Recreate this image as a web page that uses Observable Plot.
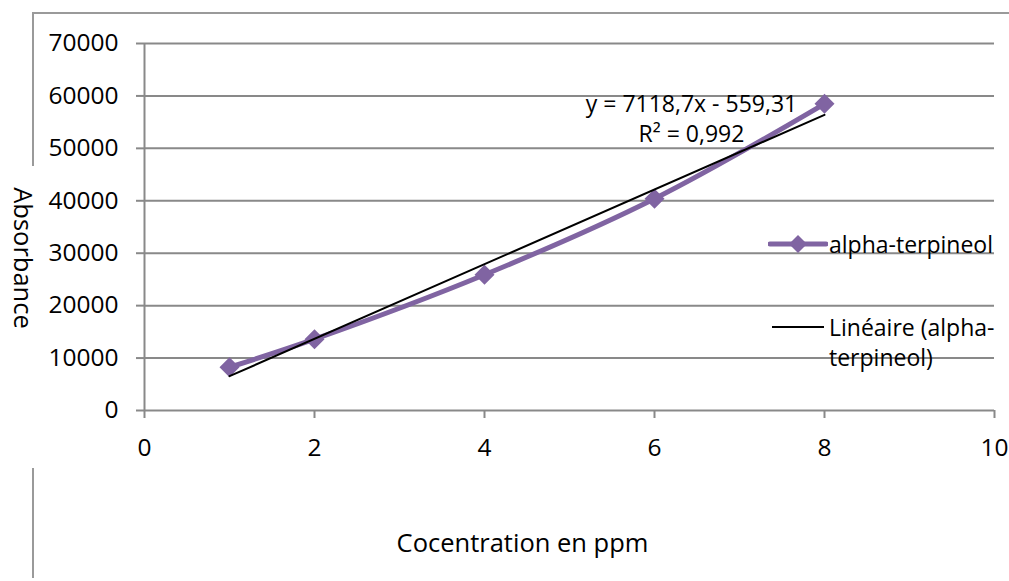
<!DOCTYPE html>
<html>
<head>
<meta charset="utf-8">
<script src="https://cdn.jsdelivr.net/npm/d3@7"></script>
<script src="https://cdn.jsdelivr.net/npm/@observablehq/plot@0.6"></script>
<style>
  html, body { margin: 0; padding: 0; background: #fff; }
  #wrap { position: relative; width: 1009px; height: 581px; overflow: hidden; font-family: "Open Sans", sans-serif; }
  #wrap svg { display: block; }
  .bar { position: absolute; background: #9a9a9a; }
  .leg { position: absolute; font-size: 23px; color: #000; line-height: 30px; white-space: nowrap; }
  .sw { position: absolute; }
</style>
</head>
<body>
<div id="wrap"></div>
<script>
// Data
const concentrations = [1, 2, 4, 6, 8];
const absorbance = [8250, 13600, 25900, 40400, 58500];
const seriesName = "alpha-terpineol";
const trendName = ["Linéaire (alpha-", "terpineol)"];
const xTicks = [0, 2, 4, 6, 8, 10];
const yTicks = [0, 10000, 20000, 30000, 40000, 50000, 60000, 70000];
const equationText = "y = 7118,7x - 559,31\nR² = 0,992";
const xTitle = "Cocentration en ppm";
const yTitle = "Absorbance";

const purple = "#8064A2";
const gray = "#898989";

const data = concentrations.map((c, i) => ({x: c, y: absorbance[i]}));

const chart = Plot.plot({
  width: 1009,
  height: 581,
  marginLeft: 144,
  marginRight: 15,
  marginTop: 43,
  marginBottom: 171,
  style: {fontFamily: "Open Sans", fontSize: "23px", color: "#000", background: "transparent"},
  x: {domain: [0, 10], label: null},
  y: {domain: [0, 70000], label: null},
  marks: [
    Plot.gridY(yTicks.filter(d => d !== 0), {stroke: gray, strokeWidth: 2, strokeOpacity: 1}),
    Plot.ruleY([0], {stroke: gray, strokeWidth: 2}),
    Plot.ruleX([0], {stroke: gray, strokeWidth: 2}),
    Plot.axisY({ticks: yTicks, tickSize: 8, tickPadding: 18, tickFormat: d => String(d), stroke: gray, strokeWidth: 2, fill: "#000", fontSize: 24.5, label: null}),
    Plot.axisX({ticks: xTicks, tickSize: 8, tickPadding: 20, tickFormat: d => String(d), stroke: gray, strokeWidth: 2, fill: "#000", fontSize: 24.5, label: null}),
    Plot.line(data, {x: "x", y: "y", stroke: purple, strokeWidth: 5, curve: "catmull-rom"}),
    Plot.dot(data, {x: "x", y: "y", symbol: "diamond2", r: 9, fill: purple, stroke: "none"}),
    Plot.linearRegressionY(data, {x: "x", y: "y", stroke: "#000", strokeWidth: 2, ci: 0}),
    Plot.text([equationText], {frameAnchor: "top", lineAnchor: "middle", dx: 122, dy: 74, lineHeight: 1.3, fill: "#000", fontSize: 23}),
    Plot.text([yTitle], {frameAnchor: "left", textAnchor: "middle", lineAnchor: "middle", dx: -122, dy: 31, rotate: 90, fill: "#000", fontSize: 25.5}),
    Plot.text([xTitle], {frameAnchor: "bottom", textAnchor: "middle", lineAnchor: "middle", dx: -47, dy: 133, fill: "#000", fontSize: 25.5})
  ]
});

const wrap = document.getElementById("wrap");
wrap.appendChild(chart);

// chart-area border fragments (decoration)
function bar(l, t, w, h) {
  const d = document.createElement("div");
  d.className = "bar";
  Object.assign(d.style, {left: l + "px", top: t + "px", width: w + "px", height: h + "px"});
  wrap.appendChild(d);
}
bar(32, 12, 977, 2);
bar(32, 12, 2, 154);
bar(32, 468, 2, 110);

// legend
const leg1 = document.createElement("div");
leg1.className = "leg";
leg1.style.left = "829px"; leg1.style.top = "229px";
leg1.textContent = seriesName;
wrap.appendChild(leg1);

const leg2 = document.createElement("div");
leg2.className = "leg";
leg2.style.left = "829px"; leg2.style.top = "312px";
leg2.innerHTML = trendName.join("<br>");
wrap.appendChild(leg2);

const ns = "http://www.w3.org/2000/svg";
const sw1 = document.createElementNS(ns, "svg");
sw1.setAttribute("class", "sw");
sw1.setAttribute("width", 60); sw1.setAttribute("height", 20);
sw1.style.left = "768px"; sw1.style.top = "234px";
sw1.innerHTML = `<line x1="2" y1="10" x2="58" y2="10" stroke="${purple}" stroke-width="5" stroke-linecap="round"/>
<path d="M30,1 L39,10 L30,19 L21,10 Z" fill="${purple}"/>`;
wrap.appendChild(sw1);

const sw2 = document.createElementNS(ns, "svg");
sw2.setAttribute("class", "sw");
sw2.setAttribute("width", 60); sw2.setAttribute("height", 20);
sw2.style.left = "770px"; sw2.style.top = "317px";
sw2.innerHTML = `<line x1="2" y1="10" x2="54" y2="10" stroke="#000" stroke-width="2"/>`;
wrap.appendChild(sw2);
</script>
</body>
</html>
